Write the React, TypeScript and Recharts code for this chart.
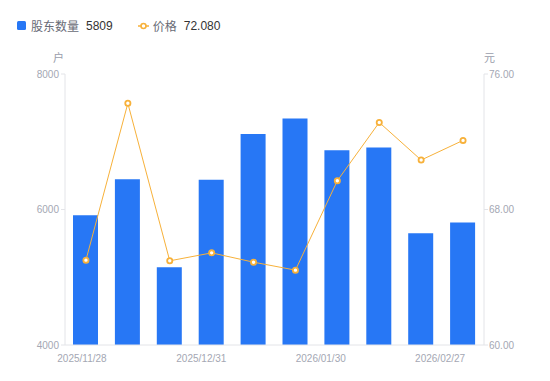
import React from "react";
import { ComposedChart, Bar, Line, XAxis, YAxis } from "recharts";

const dates = [
  "2025/11/28", "2025/12/10", "2025/12/19", "2025/12/31", "2026/01/09",
  "2026/01/20", "2026/01/30", "2026/02/10", "2026/02/20", "2026/02/27",
];
const holders = [5915, 6445, 5149, 6439, 7116, 7343, 6876, 6916, 5649, 5809];
const prices = [65.01, 74.27, 64.97, 65.44, 64.89, 64.42, 69.7, 73.14, 70.92, 72.08];
const leftTicks = [4000, 6000, 8000];
const rightTicks = [60, 68, 76];

const data = dates.map((d, i) => ({ date: d, holders: holders[i], price: prices[i] }));

const FONT = "'Liberation Sans', 'Noto Sans CJK SC', Arial, sans-serif";
const BLUE = "#2777f5";
const ORANGE = "#f7b13a";
const AXIS_TEXT = "#a4a7b3";
const AXIS_LINE = "#e3e4e8";

const XTick = (props: any) => {
  const { x, y, payload, index } = props;
  const dx = -4 - index * 6.3;
  return (
    <text x={x + dx} y={y + 9} textAnchor="middle" fill={AXIS_TEXT} fontSize={10} fontFamily={FONT}>
      {payload.value}
    </text>
  );
};

const Dot = (props: any) => {
  const { cx, cy } = props;
  return <circle cx={cx} cy={cy} r={2.6} fill="#fff" stroke={ORANGE} strokeWidth={1.8} />;
};

export default function App() {
  return (
    <div style={{ position: "absolute", left: 0, top: 0, width: 550, height: 381, background: "#fff", fontFamily: FONT }}>
      <div style={{ position: "absolute", left: 17, top: 17, display: "flex", alignItems: "center", fontSize: 12, whiteSpace: "nowrap" }}>
        <span style={{ display: "inline-block", width: 9, height: 9, background: BLUE, borderRadius: 1.5 }} />
        <span style={{ color: "#686b76", marginLeft: 5 }}>股东数量</span>
        <span style={{ color: "#333", marginLeft: 7 }}>5809</span>
        <svg width={11} height={8} style={{ marginLeft: 25 }}>
          <line x1={0} y1={4} x2={11} y2={4} stroke={ORANGE} strokeWidth={1.5} />
          <circle cx={5.5} cy={4} r={2.5} fill="#fff" stroke={ORANGE} strokeWidth={1.6} />
        </svg>
        <span style={{ color: "#686b76", marginLeft: 4 }}>价格</span>
        <span style={{ color: "#333", marginLeft: 7 }}>72.080</span>
      </div>
      <div style={{ position: "absolute", left: 53, top: 49, fontSize: 11, color: "#9a9dab" }}>户</div>
      <div style={{ position: "absolute", left: 484, top: 49, fontSize: 11, color: "#9a9dab" }}>元</div>
      <ComposedChart
        width={550}
        height={381}
        data={data}
        margin={{ top: 74, right: 0, bottom: 0, left: 0 }}
        barCategoryGap={0}
      >
        <XAxis
          dataKey="date"
          height={36}
          interval={2}
          tick={<XTick />}
          tickLine={false}
          axisLine={{ stroke: AXIS_LINE }}
        />
        <YAxis
          yAxisId="left"
          orientation="left"
          width={65}
          domain={[4000, 8000]}
          ticks={leftTicks}
          tickSize={4}
          tickMargin={2}
          tickLine={{ stroke: AXIS_LINE }}
          axisLine={{ stroke: AXIS_LINE }}
          tick={{ fill: AXIS_TEXT, fontSize: 10, fontFamily: FONT }}
        />
        <YAxis
          yAxisId="right"
          orientation="right"
          width={66}
          domain={[60, 76]}
          ticks={rightTicks}
          tickFormatter={(v: number) => v.toFixed(2)}
          tickSize={4}
          tickMargin={1}
          tickLine={{ stroke: AXIS_LINE }}
          axisLine={{ stroke: AXIS_LINE }}
          tick={{ fill: AXIS_TEXT, fontSize: 10, fontFamily: FONT }}
        />
        <Bar yAxisId="left" dataKey="holders" fill={BLUE} barSize={25} isAnimationActive={false} />
        <Line
          yAxisId="right"
          dataKey="price"
          type="linear"
          stroke={ORANGE}
          strokeWidth={1}
          dot={<Dot />}
          activeDot={false}
          isAnimationActive={false}
        />
      </ComposedChart>
    </div>
  );
}
